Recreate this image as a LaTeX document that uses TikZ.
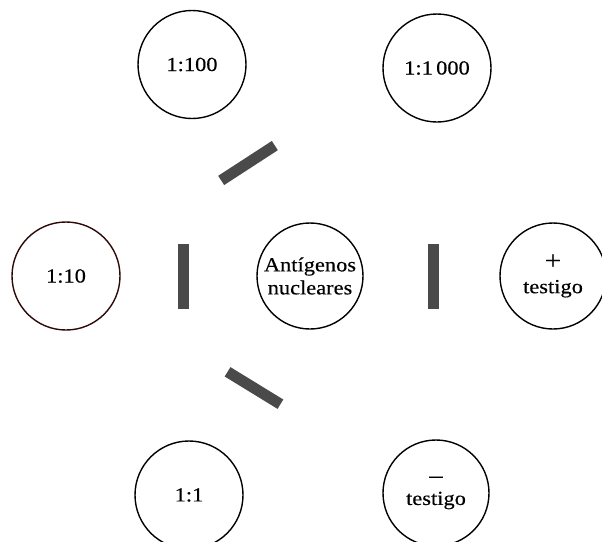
\documentclass[tikz,border=0pt]{standalone}
\usepackage{fontspec}
\setmainfont{Liberation Serif}[FakeStretch=1.12,FakeBold=0.3]
\definecolor{barcol}{HTML}{4A4A4A}
\definecolor{rimred}{RGB}{45,8,8}
\begin{document}
\begin{tikzpicture}[x=1pt,y=-1pt,
  circ/.style={circle,draw=black,line width=1.4pt,minimum size=108pt,inner sep=0pt,align=center,font=\fontsize{20}{23}\selectfont},
  barbox/.style={fill=barcol,minimum width=65pt,minimum height=11pt,inner sep=0pt}]
\useasboundingbox (0,0) rectangle (602,541);
\node[circ] (c100) at (192,64.5) {1:100};
\node[circ] (c1000) at (437,68) {1:1\,000};
\node[circ,draw=rimred] (c10) at (66,276) {1:10};
\node[circ,minimum size=106pt] (ant) at (310,276) {Antígenos\\nucleares};
\node[circ,minimum size=106pt] (pos) at (553,276) {{\fontsize{26}{26}\selectfont +}\\[1pt]testigo};
\node[circ,minimum size=108pt] (c1) at (189,495) {1:1};
\node[circ,minimum size=106pt] (neg) at (436,493) {{\fontsize{24}{24}\selectfont –}\\[-1pt]testigo};
\node[barbox,rotate=90] (b1) at (183,276.5) {};
\node[barbox,rotate=90] (b2) at (433,276.5) {};
\node[barbox,rotate=33,minimum width=64pt] (b3) at (248,163) {};
\node[barbox,rotate=-31.5,minimum width=62pt] (b4) at (254,388) {};
\end{tikzpicture}
\end{document}
